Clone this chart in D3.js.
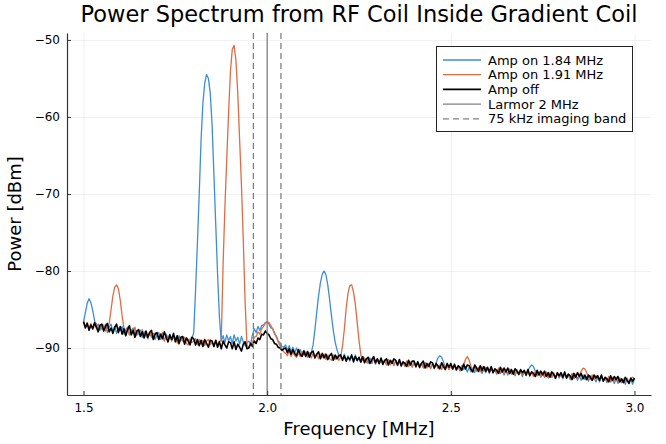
<!doctype html>
<html>
<head>
  <meta charset="utf-8">
  <style>
    body { margin: 0; background: #fff; }
    svg { display: block; font-family: "DejaVu Sans", sans-serif; }
  </style>
  <script src="https://cdn.jsdelivr.net/npm/d3@7"></script>
</head>
<body>
<script>
// frequency samples [MHz]
var freq = [
  1.5,1.505,1.51,1.515,1.52,1.525,1.53,1.535,1.54,1.545,
  1.55,1.555,1.56,1.565,1.57,1.575,1.58,1.585,1.59,1.595,
  1.6,1.605,1.61,1.615,1.62,1.625,1.63,1.635,1.64,1.645,
  1.65,1.655,1.66,1.665,1.67,1.675,1.68,1.685,1.69,1.695,
  1.7,1.705,1.71,1.715,1.72,1.725,1.73,1.735,1.74,1.745,
  1.75,1.755,1.76,1.765,1.77,1.775,1.78,1.785,1.79,1.795,
  1.8,1.805,1.81,1.815,1.82,1.825,1.83,1.835,1.84,1.845,
  1.85,1.855,1.86,1.865,1.87,1.875,1.88,1.885,1.89,1.895,
  1.9,1.905,1.91,1.915,1.92,1.925,1.93,1.935,1.94,1.945,
  1.95,1.955,1.96,1.965,1.97,1.975,1.98,1.985,1.99,1.995,
  2.0,2.005,2.01,2.015,2.02,2.025,2.03,2.035,2.04,2.045,
  2.05,2.055,2.06,2.065,2.07,2.075,2.08,2.085,2.09,2.095,
  2.1,2.105,2.11,2.115,2.12,2.125,2.13,2.135,2.14,2.145,
  2.15,2.155,2.16,2.165,2.17,2.175,2.18,2.185,2.19,2.195,
  2.2,2.205,2.21,2.215,2.22,2.225,2.23,2.235,2.24,2.245,
  2.25,2.255,2.26,2.265,2.27,2.275,2.28,2.285,2.29,2.295,
  2.3,2.305,2.31,2.315,2.32,2.325,2.33,2.335,2.34,2.345,
  2.35,2.355,2.36,2.365,2.37,2.375,2.38,2.385,2.39,2.395,
  2.4,2.405,2.41,2.415,2.42,2.425,2.43,2.435,2.44,2.445,
  2.45,2.455,2.46,2.465,2.47,2.475,2.48,2.485,2.49,2.495,
  2.5,2.505,2.51,2.515,2.52,2.525,2.53,2.535,2.54,2.545,
  2.55,2.555,2.56,2.565,2.57,2.575,2.58,2.585,2.59,2.595,
  2.6,2.605,2.61,2.615,2.62,2.625,2.63,2.635,2.64,2.645,
  2.65,2.655,2.66,2.665,2.67,2.675,2.68,2.685,2.69,2.695,
  2.7,2.705,2.71,2.715,2.72,2.725,2.73,2.735,2.74,2.745,
  2.75,2.755,2.76,2.765,2.77,2.775,2.78,2.785,2.79,2.795,
  2.8,2.805,2.81,2.815,2.82,2.825,2.83,2.835,2.84,2.845,
  2.85,2.855,2.86,2.865,2.87,2.875,2.88,2.885,2.89,2.895,
  2.9,2.905,2.91,2.915,2.92,2.925,2.93,2.935,2.94,2.945,
  2.95,2.955,2.96,2.965,2.97,2.975,2.98,2.985,2.99,2.995,
  3.0
];

// power [dBm], amplifier on at 1.84 MHz
var ampOn184 = [
  -86.6,-85.4,-84.2,-83.6,-84.1,-85.1,-86.4,-87.4,-86.9,-87.7,
  -87.0,-87.7,-86.9,-88.0,-87.3,-86.9,-87.9,-87.2,-88.1,-87.4,
  -87.7,-87.2,-88.2,-87.6,-87.3,-88.3,-87.8,-87.4,-88.4,-87.9,
  -88.2,-87.7,-88.6,-87.9,-88.4,-88.8,-88.0,-88.5,-88.1,-88.9,
  -88.3,-88.0,-88.9,-88.4,-89.1,-88.2,-88.7,-88.2,-89.0,-88.5,
  -88.6,-89.2,-88.4,-89.0,-88.5,-89.3,-88.7,-88.9,-89.4,-88.8,
  -88.0,-82.5,-76.5,-70.0,-63.0,-58.2,-55.6,-54.5,-55.0,-56.9,
  -61.0,-67.5,-74.0,-80.5,-86.0,-89.1,-88.4,-89.3,-88.3,-89.1,
  -88.5,-89.4,-88.3,-89.1,-88.6,-89.5,-88.5,-89.2,-89.7,-89.3,
  -89.1,-89.5,-88.3,-87.5,-88.0,-87.2,-87.7,-87.1,-87.0,-86.7,
  -86.6,-86.9,-87.4,-87.5,-88.2,-88.4,-89.1,-89.3,-89.8,-89.9,
  -89.6,-90.3,-89.7,-90.5,-89.9,-90.6,-90.0,-90.7,-90.2,-90.8,
  -90.3,-91.0,-90.4,-91.1,-90.6,-89.6,-87.6,-85.3,-83.2,-81.5,
  -80.4,-80.0,-80.5,-81.8,-83.7,-85.8,-87.7,-89.2,-90.2,-90.9,
  -91.1,-91.4,-90.8,-91.6,-91.0,-91.7,-91.1,-91.5,-90.9,-91.7,
  -91.3,-91.9,-91.2,-91.7,-91.4,-92.0,-91.3,-91.8,-91.4,-92.1,
  -91.5,-92.1,-91.4,-91.9,-91.6,-92.2,-91.5,-92.0,-91.6,-92.2,
  -91.7,-92.3,-91.6,-92.1,-91.8,-92.4,-91.7,-92.2,-91.8,-92.4,
  -91.9,-92.5,-91.8,-92.3,-92.0,-92.6,-91.9,-92.4,-92.0,-92.6,
  -92.1,-92.7,-91.9,-91.3,-91.0,-91.2,-91.8,-92.5,-92.2,-92.8,
  -92.2,-92.8,-92.3,-92.9,-92.4,-93.0,-92.3,-92.8,-92.5,-93.1,
  -92.5,-93.1,-92.6,-93.2,-92.5,-93.1,-92.7,-93.3,-92.6,-93.2,
  -92.7,-93.3,-92.6,-93.2,-92.8,-93.4,-92.7,-93.3,-92.9,-93.5,
  -92.9,-93.5,-92.8,-93.4,-93.0,-93.6,-92.9,-93.5,-93.1,-93.7,
  -93.0,-93.6,-92.9,-92.5,-92.2,-92.4,-93.0,-93.6,-93.2,-93.8,
  -93.2,-93.8,-93.3,-93.9,-93.2,-93.8,-93.4,-94.0,-93.3,-93.9,
  -93.4,-94.0,-93.3,-93.9,-93.5,-94.1,-93.4,-94.0,-93.6,-94.2,
  -93.6,-94.2,-93.5,-94.1,-93.7,-94.3,-93.6,-94.2,-93.8,-94.4,
  -93.8,-94.4,-93.7,-94.3,-93.9,-94.5,-93.8,-94.4,-94.0,-94.6,
  -94.0,-94.6,-93.9,-94.5,-94.1,-94.7,-94.0,-94.6,-94.1,-94.7,
  -94.0
];

// power [dBm], amplifier on at 1.91 MHz
var ampOn191 = [
  -86.5,-87.3,-86.7,-87.5,-86.8,-87.6,-87.0,-86.8,-87.7,-87.1,
  -87.6,-87.0,-87.8,-87.4,-86.8,-85.0,-83.2,-82.1,-81.8,-82.3,
  -83.8,-85.8,-87.4,-88.1,-87.5,-88.3,-87.6,-88.1,-87.3,-88.4,
  -87.8,-88.4,-87.6,-88.5,-88.0,-88.7,-87.9,-88.6,-88.8,-88.0,
  -88.2,-88.9,-88.4,-88.0,-89.0,-88.5,-89.2,-88.4,-89.1,-88.5,
  -88.7,-89.3,-89.5,-88.8,-89.1,-88.6,-89.4,-89.6,-88.8,-89.3,
  -89.1,-88.8,-89.6,-88.9,-89.5,-89.0,-89.7,-89.1,-88.9,-89.6,
  -89.2,-89.8,-89.0,-89.7,-89.1,-89.0,-79.1,-71.6,-65.4,-59.4,
  -54.1,-51.2,-50.7,-52.7,-57.0,-63.0,-68.9,-76.1,-84.1,-89.6,
  -90.0,-89.5,-89.3,-88.6,-88.5,-87.9,-88.2,-87.5,-87.2,-86.8,
  -86.6,-86.7,-87.1,-87.5,-88.0,-88.6,-89.2,-89.7,-90.1,-90.5,
  -90.7,-91.0,-90.4,-91.1,-90.5,-91.0,-91.2,-90.6,-91.1,-90.5,
  -90.9,-90.5,-91.2,-90.6,-91.3,-90.7,-91.2,-90.8,-91.4,-90.8,
  -91.2,-90.8,-91.5,-90.9,-91.4,-91.6,-90.9,-91.5,-91.0,-91.6,
  -91.2,-89.8,-87.6,-84.9,-82.9,-81.9,-81.8,-82.7,-84.3,-86.6,
  -89.0,-90.9,-91.6,-91.3,-91.9,-91.2,-91.8,-92.0,-91.3,-91.9,
  -91.4,-92.0,-91.5,-92.2,-91.6,-92.1,-91.5,-92.2,-91.7,-92.3,
  -91.6,-92.2,-91.7,-92.4,-91.8,-92.3,-91.7,-92.4,-91.9,-92.5,
  -91.8,-92.4,-91.9,-92.6,-92.0,-92.5,-91.9,-92.6,-92.1,-92.7,
  -92.0,-92.6,-92.1,-92.7,-92.2,-92.8,-92.1,-92.7,-92.2,-92.8,
  -92.3,-92.8,-92.2,-92.9,-92.4,-92.9,-92.3,-92.2,-91.5,-91.1,
  -91.6,-92.4,-92.9,-92.4,-93.0,-92.5,-93.1,-92.4,-93.0,-92.5,
  -92.6,-93.2,-92.5,-93.1,-92.7,-93.3,-92.6,-93.2,-92.7,-93.3,
  -92.8,-93.4,-92.7,-93.3,-92.9,-93.5,-92.8,-93.4,-92.9,-93.5,
  -93.0,-93.5,-92.9,-93.6,-93.1,-93.7,-93.0,-93.6,-93.1,-93.7,
  -93.2,-93.7,-93.1,-93.8,-93.3,-93.8,-93.2,-93.9,-93.3,-93.8,
  -93.3,-93.9,-93.2,-93.8,-93.4,-94.0,-93.3,-93.9,-93.4,-94.0,
  -93.5,-93.0,-92.6,-92.7,-93.2,-93.9,-94.1,-93.5,-94.1,-93.6,
  -93.7,-94.2,-93.6,-94.3,-93.8,-94.2,-93.7,-94.4,-93.8,-94.3,
  -93.8,-94.4,-93.9,-94.5,-94.0,-94.4,-93.9,-94.6,-94.0,-93.8,
  -94.0
];

// power [dBm], amplifier off
var ampOff = [
  -86.6,-87.4,-86.8,-87.7,-87.0,-87.5,-86.7,-87.3,-87.9,-87.0,
  -86.9,-87.8,-87.2,-86.8,-87.9,-87.4,-88.1,-87.3,-86.9,-88.0,
  -87.2,-88.2,-87.5,-88.4,-87.6,-87.1,-88.3,-87.7,-88.6,-87.8,
  -87.6,-88.5,-87.9,-88.7,-87.8,-88.6,-88.0,-87.7,-88.9,-88.2,
  -88.0,-88.9,-88.2,-88.8,-87.9,-88.6,-89.2,-88.3,-88.9,-88.1,
  -89.2,-88.4,-89.4,-88.6,-88.5,-89.5,-88.7,-89.1,-89.6,-88.6,
  -88.8,-89.6,-88.9,-89.7,-89.0,-89.8,-88.9,-89.4,-89.9,-89.0,
  -89.1,-89.8,-89.0,-89.9,-89.2,-90.1,-89.1,-89.6,-90.0,-89.2,
  -89.3,-90.1,-89.2,-90.2,-89.5,-89.9,-90.4,-89.5,-89.2,-90.1,
  -90.0,-89.4,-89.8,-89.1,-89.4,-88.7,-88.9,-88.2,-88.3,-87.8,
  -88.1,-88.3,-88.8,-88.9,-89.4,-89.5,-89.9,-90.0,-90.3,-90.1,
  -90.0,-90.6,-90.1,-90.8,-90.2,-90.7,-91.0,-90.2,-90.8,-91.1,
  -90.4,-91.1,-90.5,-91.2,-90.6,-90.4,-91.3,-90.8,-90.5,-91.4,
  -90.7,-91.3,-90.8,-91.5,-91.0,-90.7,-91.6,-90.9,-91.4,-91.0,
  -90.9,-91.6,-91.0,-91.7,-91.2,-91.5,-90.9,-91.8,-91.1,-91.6,
  -91.2,-91.8,-91.1,-91.9,-91.4,-91.2,-92.0,-91.5,-91.1,-91.9,
  -91.4,-92.0,-91.3,-92.1,-91.6,-91.4,-92.2,-91.6,-92.0,-91.4,
  -91.6,-92.2,-91.5,-92.3,-91.8,-92.0,-92.4,-91.6,-92.2,-91.7,
  -91.7,-92.4,-91.8,-92.5,-92.0,-91.7,-92.6,-92.0,-92.4,-91.8,
  -91.9,-92.6,-92.0,-92.3,-92.7,-91.9,-92.4,-92.8,-92.0,-92.5,
  -92.0,-92.7,-92.1,-92.8,-92.3,-92.5,-92.9,-92.1,-92.7,-92.2,
  -92.3,-92.8,-93.1,-92.2,-92.6,-93.0,-92.3,-92.9,-92.4,-93.0,
  -92.5,-93.1,-92.4,-93.2,-92.7,-92.9,-93.3,-92.5,-93.1,-92.6,
  -93.1,-92.6,-93.3,-92.8,-93.4,-92.7,-93.0,-93.4,-92.8,-93.2,
  -92.9,-93.5,-92.8,-93.6,-93.1,-93.3,-93.7,-92.9,-93.5,-93.0,
  -93.5,-93.0,-93.7,-93.2,-93.8,-93.1,-93.4,-93.9,-93.2,-93.6,
  -93.2,-93.8,-93.1,-93.9,-93.4,-93.6,-94.1,-93.3,-93.8,-93.2,
  -93.7,-93.3,-94.0,-93.5,-94.1,-93.5,-93.8,-94.2,-93.5,-93.9,
  -93.6,-94.2,-93.5,-94.3,-93.8,-94.0,-94.4,-93.6,-94.2,-93.7,
  -94.1,-93.7,-94.4,-94.0,-94.5,-93.8,-94.2,-94.6,-93.9,-94.3,
  -93.9
];

var larmor = 2.0;                 // MHz
var bandEdges = [1.9625, 2.0375]; // 75 kHz imaging band
var xTicks = [1.5, 2.0, 2.5, 3.0];
var yTicks = [-90, -80, -70, -60, -50];

var W = 666, H = 444;
// plot area (avoid the name "top", it is a window global)
var pL = 67, pR = 651, pT = 33, pB = 395;

var svg = d3.select("body").append("svg")
  .attr("width", W)
  .attr("height", H);

var x = d3.scaleLinear().domain([1.455, 3.045]).range([pL, pR]);
var y = d3.scaleLinear().domain([-96.1, -49.1]).range([pB, pT]);

// grid
svg.append("g")
  .attr("transform", "translate(0," + pB + ")")
  .call(d3.axisBottom(x).tickValues(xTicks).tickSize(-(pB - pT)).tickFormat(""))
  .call(function(g) { g.select(".domain").remove(); })
  .selectAll("line").attr("stroke", "#000").attr("stroke-opacity", 0.1).attr("stroke-width", 0.6);
svg.append("g")
  .attr("transform", "translate(" + pL + ",0)")
  .call(d3.axisLeft(y).tickValues(yTicks).tickSize(-(pR - pL)).tickFormat(""))
  .call(function(g) { g.select(".domain").remove(); })
  .selectAll("line").attr("stroke", "#000").attr("stroke-opacity", 0.1).attr("stroke-width", 0.6);

// series
var line = function(vals) {
  return d3.line()
    .x(function(d, i) { return x(freq[i]); })
    .y(function(d) { return y(d); })(vals);
};

var series = [
  { name: "Amp on 1.84 MHz", vals: ampOn184, color: "#3d8fd1", width: 1.3 },
  { name: "Amp on 1.91 MHz", vals: ampOn191, color: "#e06c44", width: 1.3 },
  { name: "Amp off", vals: ampOff, color: "#000000", width: 1.6 }
];

series.forEach(function(s) {
  svg.append("path")
    .attr("d", line(s.vals))
    .attr("fill", "none")
    .attr("stroke", s.color)
    .attr("stroke-width", s.width)
    .attr("stroke-linejoin", "round");
});

// Larmor frequency and imaging band
svg.append("line")
  .attr("x1", x(larmor)).attr("x2", x(larmor))
  .attr("y1", pT).attr("y2", pB)
  .attr("stroke", "#808080").attr("stroke-width", 1.3);

svg.selectAll(".band")
  .data(bandEdges)
  .enter()
  .append("line")
  .attr("x1", function(d) { return x(d); })
  .attr("x2", function(d) { return x(d); })
  .attr("y1", pT).attr("y2", pB)
  .attr("stroke", "#808080").attr("stroke-width", 1.3)
  .attr("stroke-dasharray", "6,4");

// axes
var xAxis = svg.append("g")
  .attr("transform", "translate(0," + pB + ")")
  .call(d3.axisBottom(x).tickValues(xTicks).tickFormat(d3.format(".1f")).tickSize(-4).tickSizeOuter(0).tickPadding(8));
var yAxis = svg.append("g")
  .attr("transform", "translate(" + pL + ",0)")
  .call(d3.axisLeft(y).tickValues(yTicks).tickSize(-4).tickSizeOuter(0).tickPadding(7));

[xAxis, yAxis].forEach(function(g) {
  g.select(".domain").attr("stroke", "#333").attr("stroke-width", 1.2);
  g.selectAll(".tick line").attr("stroke", "#333");
  g.selectAll("text").attr("font-size", 12).attr("fill", "#000").attr("font-family", "DejaVu Sans");
});

// labels
svg.append("text")
  .attr("x", (pL + pR) / 2).attr("y", 22)
  .attr("text-anchor", "middle")
  .attr("font-size", 22.5)
  .text("Power Spectrum from RF Coil Inside Gradient Coil");

svg.append("text")
  .attr("x", (pL + pR) / 2).attr("y", 435)
  .attr("text-anchor", "middle")
  .attr("font-size", 18)
  .text("Frequency [MHz]");

svg.append("text")
  .attr("transform", "translate(21," + ((pT + pB) / 2) + ") rotate(-90)")
  .attr("text-anchor", "middle")
  .attr("font-size", 18)
  .text("Power [dBm]");

// legend
var legend = [
  { name: "Amp on 1.84 MHz", color: "#3d8fd1", width: 1.3, dash: null },
  { name: "Amp on 1.91 MHz", color: "#e06c44", width: 1.3, dash: null },
  { name: "Amp off", color: "#000000", width: 1.6, dash: null },
  { name: "Larmor 2 MHz", color: "#808080", width: 1.3, dash: null },
  { name: "75 kHz imaging band", color: "#808080", width: 1.3, dash: "6,4" }
];

var lg = svg.append("g");
lg.append("rect")
  .attr("x", 436.5).attr("y", 46.5)
  .attr("width", 196).attr("height", 85)
  .attr("fill", "#fff").attr("stroke", "#222").attr("stroke-width", 1);

var rows = lg.selectAll(".row")
  .data(legend)
  .enter()
  .append("g")
  .attr("transform", function(d, i) { return "translate(0," + (60 + i * 14.7) + ")"; });

rows.append("line")
  .attr("x1", 443).attr("x2", 481)
  .attr("stroke", function(d) { return d.color; })
  .attr("stroke-width", function(d) { return d.width; })
  .attr("stroke-dasharray", function(d) { return d.dash; });

rows.append("text")
  .attr("x", 488).attr("dy", "0.35em")
  .attr("font-size", 13)
  .text(function(d) { return d.name; });
</script>
</body>
</html>
